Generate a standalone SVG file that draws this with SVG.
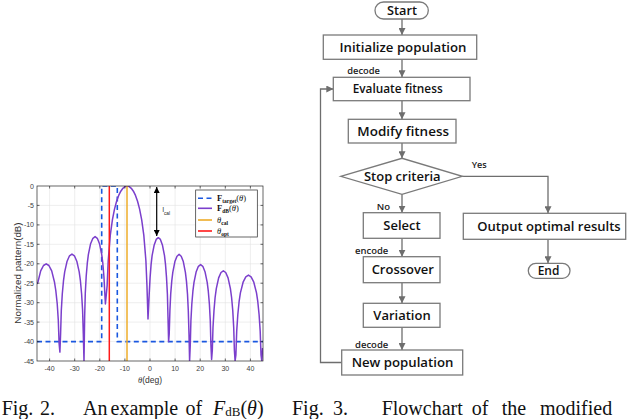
<svg xmlns="http://www.w3.org/2000/svg" width="640" height="419" viewBox="0 0 640 419">
<style>
.grid{stroke:#e3e3e3;stroke-width:0.6;fill:none}
.axis{stroke:#262626;stroke-width:0.7;fill:none}
.tick{font-family:"Liberation Sans",Arial,sans-serif;font-size:7px;fill:#404040}
.box{fill:#fff;stroke:#7a7a7a;stroke-width:1.3}
.lbl{font-family:"Open Sans","Noto Sans",sans-serif;font-weight:600;font-size:12.5px;fill:#111;text-anchor:middle}
.sm{font-family:"Open Sans","Noto Sans",sans-serif;font-weight:600;font-size:8px;fill:#222}
.conn{stroke:#6e6e6e;stroke-width:1.3;fill:none}
.cap{font-family:"Liberation Serif","Times New Roman",serif;font-size:20px;fill:#111}
.lg{font-family:"Liberation Serif","Times New Roman",serif;font-size:8.5px;fill:#111}
</style>
<defs>
<marker id="ah" viewBox="0 0 10 10" refX="10" refY="5" markerWidth="7" markerHeight="7" markerUnits="userSpaceOnUse" orient="auto">
<path d="M0,0 L10,5 L0,10 z" fill="#6e6e6e"/>
</marker>
<marker id="bk" viewBox="0 0 10 10" refX="10" refY="5" markerWidth="6" markerHeight="6" markerUnits="userSpaceOnUse" orient="auto">
<path d="M0,0 L10,5 L0,10 z" fill="#000"/>
</marker>
<clipPath id="ax"><rect x="37" y="186" width="226" height="175"/></clipPath>
</defs>
<rect width="640" height="419" fill="#fff"/>

<!-- Plot -->
<g id="plot">
<g class="grid">
<path d="M49.6,186V361M74.7,186V361M99.8,186V361M124.9,186V361M150,186V361M175.1,186V361M200.2,186V361M225.3,186V361M250.4,186V361"/>
<path d="M37,205.4H263M37,224.9H263M37,244.3H263M37,263.8H263M37,283.2H263M37,302.7H263M37,322.1H263M37,341.6H263"/>
</g>
<g clip-path="url(#ax)">
<path d="M37,341.6H101.7V186H117.3V341.6H263" fill="none" stroke="#1a57e0" stroke-width="1.6" stroke-dasharray="5,3.5"/>
<polyline fill="none" stroke="#7b3fcc" stroke-width="1.5" stroke-linejoin="round" points="37,284 38,281.7 40.7,270.9 43.5,265.5 46.2,263.8 48.9,265.5 51.7,270.9 54.4,281.7 55.8,290.5 57.2,303.5 58.3,320.2 59.1,343.5 59.9,352.1 60.6,333.8 61.3,310.4 62.3,293.7 63.5,280.7 64.7,271.9 67.1,261.2 69.5,255.8 71.95,254.1 74.4,255.8 76.8,261.2 79.2,271.9 80.4,280.7 81.6,293.7 82.6,310.4 83.3,333.8 84,361 84.66,316.3 85.3,293 86.2,276.2 87.3,263.2 88.4,254.4 90.6,243.7 92.9,238.3 95.1,236.6 97.3,238.3 99.5,243.7 101.7,254.4 102.8,263.2 103.9,276.2 104.8,293 105.4,304 107.15,285.6 108.2,260.7 110.3,235.1 112.4,219.8 114.5,209.1 116.6,201.2 118.7,195.4 120.8,191.2 122.9,188.3 125,186.6 127.1,186 129.2,186.6 131.3,188.3 133.4,191.2 135.5,195.4 137.55,201.2 139.6,209.1 141.7,219.8 143.8,235.1 145.9,260.7 146.95,285.6 148,319 149.2,294.1 150.1,277.4 151.1,264.4 152.1,255.6 154.2,244.9 156.2,239.4 158.3,237.7 160.4,239.4 162.4,244.9 164.5,255.6 165.5,264.4 166.5,277.4 167.4,294.1 168,317.4 168.6,341.6 169.2,334.2 169.9,310.8 170.7,294.1 171.75,281.1 172.8,272.3 174.9,261.6 177,256.2 179.1,254.4 181.2,256.2 183.3,261.6 185.4,272.3 186.45,281.1 187.5,294.1 188.3,310.8 189,334.2 189.6,361 190.3,344.3 190.9,321 191.8,304.2 192.9,291.2 194,282.4 196.2,271.7 198.4,266.3 200.6,264.6 202.8,266.3 205,271.7 207.2,282.4 208.3,291.2 209.4,304.2 210.3,321 210.9,344.3 211.6,359.5 212.3,350.5 213,327.2 214,310.4 215.1,297.5 216.3,288.7 218.65,277.9 221,272.5 223.35,270.8 225.7,272.5 228.05,277.9 230.4,288.7 231.6,297.5 232.75,310.4 233.7,327.2 234.4,350.5 235.1,361 235.9,354.8 236.7,331.4 237.8,314.7 239.1,301.7 240.4,292.9 243.1,282.2 245.8,276.8 248.45,275.1 251.1,276.8 253.8,282.2 256.5,292.9 257.8,301.7 259.1,314.7 260.2,331.4 261,354.8 261.8,361 262.6,348"/>
<line x1="127" y1="186" x2="127" y2="361" stroke="#eeac2a" stroke-width="1.5"/>
<line x1="109.3" y1="186" x2="109.3" y2="361" stroke="#ff1a1a" stroke-width="1.5"/>
</g>
<rect class="axis" x="37" y="186" width="226" height="175"/>
<path class="axis" d="M49.6,361v-2.5M74.7,361v-2.5M99.8,361v-2.5M124.9,361v-2.5M150,361v-2.5M175.1,361v-2.5M200.2,361v-2.5M225.3,361v-2.5M250.4,361v-2.5M49.6,186v2.5M74.7,186v2.5M99.8,186v2.5M124.9,186v2.5M150,186v2.5M175.1,186v2.5M200.2,186v2.5M225.3,186v2.5M250.4,186v2.5M37,205.4h2.5M37,224.9h2.5M37,244.3h2.5M37,263.8h2.5M37,283.2h2.5M37,302.7h2.5M37,322.1h2.5M37,341.6h2.5M263,205.4h-2.5M263,224.9h-2.5M263,244.3h-2.5M263,263.8h-2.5M263,283.2h-2.5M263,302.7h-2.5M263,322.1h-2.5M263,341.6h-2.5"/>
<g class="tick" text-anchor="end">
<text x="34" y="188.5">0</text><text x="34" y="207.9">-5</text><text x="34" y="227.4">-10</text><text x="34" y="246.8">-15</text><text x="34" y="266.3">-20</text><text x="34" y="285.7">-25</text><text x="34" y="305.2">-30</text><text x="34" y="324.6">-35</text><text x="34" y="344.1">-40</text><text x="34" y="363.5">-45</text>
</g>
<g class="tick" text-anchor="middle">
<text x="49.6" y="371">-40</text><text x="74.7" y="371">-30</text><text x="99.8" y="371">-20</text><text x="124.9" y="371">-10</text><text x="150" y="371">0</text><text x="175.1" y="371">10</text><text x="200.2" y="371">20</text><text x="225.3" y="371">30</text><text x="250.4" y="371">40</text>
</g>
<text transform="translate(20.5,273) rotate(-90)" text-anchor="middle" font-family="'Liberation Sans',Arial,sans-serif" font-size="9.8" fill="#333">Normalized pattern(dB)</text>
<text x="150" y="383" text-anchor="middle" font-family="'Liberation Sans',Arial,sans-serif" font-size="8.5" fill="#333"><tspan font-family="'Liberation Serif',serif" font-style="italic">θ</tspan>(deg)</text>
<!-- l_cal arrow -->
<line x1="156.7" y1="193" x2="156.7" y2="187" stroke="#000" stroke-width="1.2" marker-end="url(#bk)"/>
<line x1="156.7" y1="190" x2="156.7" y2="236" stroke="#000" stroke-width="1.2" marker-end="url(#bk)"/>
<text x="162.5" y="212" font-family="'Liberation Sans',Arial,sans-serif" font-size="6.5" fill="#222">l<tspan font-size="4.8" dy="3">cal</tspan></text>
<!-- legend -->
<rect x="195.7" y="190" width="61.6" height="47" fill="#fff" stroke="#262626" stroke-width="0.7"/>
<line x1="198" y1="198.3" x2="212" y2="198.3" stroke="#1a57e0" stroke-width="1.6" stroke-dasharray="5,3.5"/>
<line x1="198" y1="208.3" x2="212" y2="208.3" stroke="#7b3fcc" stroke-width="1.6"/>
<line x1="198" y1="220" x2="212" y2="220" stroke="#eeac2a" stroke-width="1.6"/>
<line x1="198" y1="231" x2="212" y2="231" stroke="#ff1a1a" stroke-width="1.6"/>
<text class="lg" x="217" y="201.3"><tspan font-weight="bold">F</tspan><tspan font-size="5.5" font-weight="bold" dy="1.8">target</tspan><tspan dy="-1.8">(</tspan><tspan font-style="italic">θ</tspan>)</text>
<text class="lg" x="217" y="211.3"><tspan font-weight="bold">F</tspan><tspan font-size="5.5" font-weight="bold" dy="1.8">dB</tspan><tspan dy="-1.8">(</tspan><tspan font-style="italic">θ</tspan>)</text>
<text class="lg" x="217" y="223"><tspan font-style="italic">θ</tspan><tspan font-size="5.5" font-weight="bold" dy="1.8">cal</tspan></text>
<text class="lg" x="217" y="234"><tspan font-style="italic">θ</tspan><tspan font-size="5.5" font-weight="bold" dy="1.8">opt</tspan></text>
</g>

<!-- Flowchart connectors -->
<g id="connectors">
<line class="conn" x1="402" y1="19" x2="402" y2="35" marker-end="url(#ah)"/>
<line class="conn" x1="402" y1="59.3" x2="402" y2="77.3" marker-end="url(#ah)"/>
<line class="conn" x1="402" y1="100.7" x2="402" y2="119.3" marker-end="url(#ah)"/>
<line class="conn" x1="402" y1="143" x2="402" y2="158.3" marker-end="url(#ah)"/>
<line class="conn" x1="402" y1="194.3" x2="402" y2="212.7" marker-end="url(#ah)"/>
<line class="conn" x1="402" y1="238.3" x2="402" y2="256.7" marker-end="url(#ah)"/>
<line class="conn" x1="402" y1="282.7" x2="402" y2="303.3" marker-end="url(#ah)"/>
<line class="conn" x1="402" y1="327.3" x2="402" y2="350" marker-end="url(#ah)"/>
<path class="conn" d="M462.3,176.3H548V213.3" marker-end="url(#ah)"/>
<line class="conn" x1="548" y1="239.3" x2="548" y2="263.3" marker-end="url(#ah)"/>
<path class="conn" d="M341.7,362.5H320.5V89H333.3" marker-end="url(#ah)"/>
<text class="sm" x="347.3" y="74" textLength="32.7" lengthAdjust="spacingAndGlyphs">decode</text>
<text class="sm" x="471.7" y="168.3" textLength="15" lengthAdjust="spacingAndGlyphs">Yes</text>
<text class="sm" x="376.7" y="210" textLength="13.3" lengthAdjust="spacingAndGlyphs">No</text>
<text class="sm" x="355" y="254.3" textLength="33.3" lengthAdjust="spacingAndGlyphs">encode</text>
<text class="sm" x="355" y="348.3" textLength="33.3" lengthAdjust="spacingAndGlyphs">decode</text>
</g>

<g id="start"><rect class="box" x="375" y="2" width="53.3" height="17" rx="8.5"/><text class="lbl" x="402" y="15" textLength="30" lengthAdjust="spacingAndGlyphs">Start</text></g>
<g id="init"><rect class="box" x="323.3" y="35" width="153.4" height="24.3"/><text class="lbl" x="403" y="51.6" textLength="127" lengthAdjust="spacingAndGlyphs">Initialize population</text></g>
<g id="evaluate"><rect class="box" x="333.3" y="77.3" width="136.7" height="23.4"/><text class="lbl" x="397.7" y="93.4" textLength="90" lengthAdjust="spacingAndGlyphs">Evaluate fitness</text></g>
<g id="modify"><rect class="box" x="348.3" y="119.3" width="107.7" height="23.7"/><text class="lbl" x="403.2" y="135.5" textLength="91.7" lengthAdjust="spacingAndGlyphs">Modify fitness</text></g>
<g id="stop"><polygon class="box" points="340.7,176.3 402,158.3 462.3,176.3 402,194.3"/><text class="lbl" x="402.3" y="180.8" textLength="76.7" lengthAdjust="spacingAndGlyphs">Stop criteria</text></g>
<g id="select"><rect class="box" x="363.3" y="212.7" width="76.7" height="25.6"/><text class="lbl" x="402" y="229.8" textLength="37.3" lengthAdjust="spacingAndGlyphs">Select</text></g>
<g id="crossover"><rect class="box" x="363.3" y="256.7" width="76.7" height="26"/><text class="lbl" x="402.8" y="274" textLength="62.3" lengthAdjust="spacingAndGlyphs">Crossover</text></g>
<g id="variation"><rect class="box" x="363.3" y="303.3" width="76.7" height="24"/><text class="lbl" x="402" y="319.6" textLength="57.3" lengthAdjust="spacingAndGlyphs">Variation</text></g>
<g id="newpop"><rect class="box" x="341.7" y="350" width="121" height="25"/><text class="lbl" x="402.5" y="366.8" textLength="101.7" lengthAdjust="spacingAndGlyphs">New population</text></g>
<g id="output"><rect class="box" x="463.3" y="213.3" width="162.4" height="26"/><text class="lbl" x="549" y="230.6" textLength="143.3" lengthAdjust="spacingAndGlyphs">Output optimal results</text></g>
<g id="end"><rect class="box" x="528.3" y="263.3" width="41.7" height="15" rx="7.5"/><text class="lbl" x="548.5" y="275.3" textLength="21.7" lengthAdjust="spacingAndGlyphs">End</text></g>

<!-- Caption -->
<g class="cap">
<text x="1.7" y="414.5">Fig.</text><text x="40" y="414.5">2.</text>
<text x="83" y="414.5">An</text><text x="110.5" y="414.5">example</text><text x="185.5" y="414.5">of</text>
<text x="213" y="414.5"><tspan font-style="italic">F</tspan><tspan font-size="13" dy="1.5">dB</tspan><tspan dy="-1.5">(</tspan><tspan font-style="italic">θ</tspan>)</text>
<text x="292" y="414.5">Fig.</text><text x="333" y="414.5">3.</text>
<text x="381.7" y="414.5">Flowchart</text><text x="471.7" y="414.5">of</text><text x="501.7" y="414.5">the</text><text x="540" y="414.5">modified</text>
</g>
</svg>
